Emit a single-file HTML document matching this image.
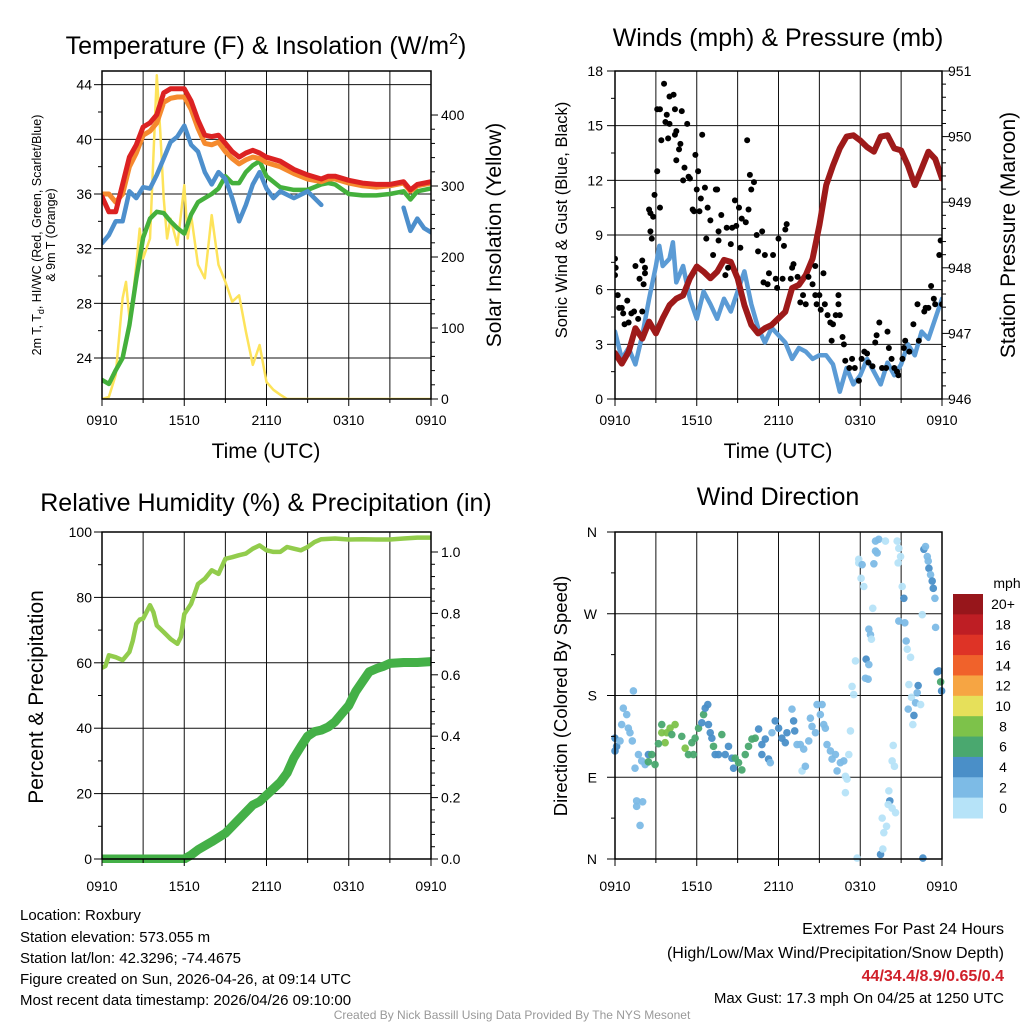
<!DOCTYPE html>
<html><head><meta charset="utf-8"><style>
html,body{margin:0;padding:0;background:#fff;}
svg{display:block;font-family:"Liberation Sans",Arial,sans-serif;}
</style></head><body>
<svg id="fig" width="1024" height="1024" viewBox="0 0 1024 1024" xmlns="http://www.w3.org/2000/svg">
<defs>
<clipPath id="c1"><rect x="102" y="71" width="329" height="328"/></clipPath>
<clipPath id="c2"><rect x="615" y="71" width="327" height="328"/></clipPath>
<clipPath id="c3"><rect x="102" y="532" width="329" height="331"/></clipPath>
<clipPath id="c4"><rect x="611" y="528" width="335" height="335"/></clipPath>
</defs>
<g id="titles" font-size="25" text-anchor="middle" fill="#000">
<text x="266" y="54">Temperature (F) &amp; Insolation (W/m<tspan font-size="16" dy="-10">2</tspan><tspan dy="10">)</tspan></text>
<text x="778" y="46">Winds (mph) &amp; Pressure (mb)</text>
<text x="266" y="511">Relative Humidity (%) &amp; Precipitation (in)</text>
<text x="778" y="505">Wind Direction</text>
</g>
<g font-size="21" text-anchor="middle">
<text x="266" y="458">Time (UTC)</text>
<text x="778" y="458">Time (UTC)</text>
<text transform="translate(501,235) rotate(-90)">Solar Insolation (Yellow)</text>
<text transform="translate(1015,235) rotate(-90)">Station Pressure (Maroon)</text>
<text transform="translate(43,697) rotate(-90)">Percent &amp; Precipitation</text>
</g>
<g text-anchor="middle">
<text transform="translate(567,220) rotate(-90)" font-size="16.5">Sonic Wind &amp; Gust (Blue, Black)</text>
<text transform="translate(567,696) rotate(-90)" font-size="18.5">Direction (Colored By Speed)</text>
</g>
<g font-size="12.5" text-anchor="middle">
<text transform="translate(41,235) rotate(-90)">2m T, T<tspan font-size="9" dy="3">d</tspan><tspan dy="-3">, HI/WC (Red, Green, Scarlet/Blue)</tspan></text>
<text transform="translate(55,235) rotate(-90)">&amp; 9m T (Orange)</text>
</g>
<g id="p1"></g>
<g id="p2"></g>
<g id="p3"></g>
<g id="p4"></g>
<g id="cbar"></g>
<g font-size="15" fill="#000">
<text x="20" y="920">Location: Roxbury</text>
<text x="20" y="942">Station elevation: 573.055 m</text>
<text x="20" y="963">Station lat/lon: 42.3296; -74.4675</text>
<text x="20" y="984">Figure created on Sun, 2026-04-26, at 09:14 UTC</text>
<text x="20" y="1005">Most recent data timestamp: 2026/04/26 09:10:00</text>
</g>
<g font-size="16" text-anchor="end">
<text x="1004" y="934">Extremes For Past 24 Hours</text>
<text x="1004" y="958">(High/Low/Max Wind/Precipitation/Snow Depth)</text>
<text x="1004" y="981" fill="#d0202a" font-weight="bold">44/34.4/8.9/0.65/0.4</text>
<text x="1004" y="1003" font-size="15">Max Gust: 17.3 mph On 04/25 at 1250 UTC</text>
</g>
<text x="512" y="1019" font-size="12" fill="#999" text-anchor="middle">Created By Nick Bassill Using Data Provided By The NYS Mesonet</text>
</svg>
<script>
// ---- Panel 1 data ----
const tHours = [0,0.5,1,1.5,2,2.5,3,3.5,4,4.5,5,5.5,6,6.5,7,7.5,8,8.5,9,9.5,10,10.5,11,11.5,12,13,14,15,16,16.5,17,18,19,20,21,22,22.5,23,24];
const tempRed = [35.8,34.7,34.7,36.7,38.7,39.6,40.9,41.2,41.8,43.4,43.7,43.7,43.7,42.8,41.4,40.3,40.2,40.3,39.7,39.1,38.7,39.0,39.2,39.0,38.7,38.4,37.8,37.4,37.1,37.3,37.3,37.0,36.8,36.7,36.7,36.9,36.3,36.7,36.9];
const temp9mOrange = [36.0,36.0,35.4,36.0,38.0,39.0,40.3,40.6,41.2,42.7,43.0,43.1,43.1,42.2,40.8,39.7,39.6,39.8,39.1,38.6,38.2,38.5,38.7,38.6,38.3,38.0,37.5,37.1,36.9,37.1,37.1,36.8,36.6,36.5,36.6,36.8,36.2,36.6,36.8];
const dewGreen = [22.4,22.1,23.1,24.0,26.4,29.8,32.8,34.2,34.7,34.6,34.0,33.5,33.1,34.5,35.4,35.7,36.0,36.4,37.3,36.8,36.8,37.6,38.1,38.4,37.3,36.5,36.3,36.3,36.7,36.8,36.7,36.0,35.9,35.9,36.0,36.2,35.6,36.2,36.4];
const wcHours = [0,0.5,1,1.5,2,2.5,3,3.5,4,4.5,5,5.5,6,6.5,7,7.5,8,8.5,9,9.5,10,10.5,11,11.5,12,12.5,13,14,15,16,19,22,22.5,23,23.5,24];
const windChillBlue = [32.4,33,34,34,36.2,35.7,36.5,36.4,37.4,38.6,39.8,40.2,41.0,39.6,39.1,37.6,36.7,37.6,37.1,35.7,34.0,35.2,36.7,37.6,36.4,35.7,36.2,35.7,36.2,35.2,null,35.0,33.3,34.2,33.5,33.2];
const solarHours = [0,0.5,1,1.5,1.75,2,2.25,2.5,2.75,3,3.5,4,4.25,4.5,4.75,5,5.5,6,6.25,6.5,7,7.5,8,8.5,9,9.5,10,10.5,11,11.5,12,12.5,13,13.5,24];
const solarYellow = [0,3,34,142,165,114,142,189,240,198,226,456,376,283,226,254,217,301,226,259,189,170,259,189,165,137,146,95,48,76,24,13,6,0,0];
const tempTicks = [24,28,32,36,40,44];
const solarTicks = [0,100,200,300,400];
const timeLabels = ["0910","1510","2110","0310","0910"];
// ---- Panel 2 data ----
const presHours = [0,0.5,1,1.5,2,2.5,3,3.5,4,4.5,5,5.5,6,6.5,7,7.5,8,8.5,9,9.5,10,10.5,11,11.5,12,12.5,13,13.5,14,14.5,15,15.5,16,16.5,17,17.5,18,18.5,19,19.5,20,20.5,21,21.5,22,22.5,23,23.5,24];
const pressure = [946.70,946.54,946.72,947.08,946.92,947.18,947.0,947.23,947.43,947.53,947.58,947.84,948.02,947.94,947.84,947.94,948.12,948.09,947.84,947.43,947.13,947.0,947.08,947.13,947.23,947.33,947.69,947.74,947.89,948.14,948.65,949.26,949.56,949.82,950.0,950.02,949.94,949.84,949.77,950.0,950.02,949.82,949.79,949.56,949.26,949.51,949.77,949.66,949.36];
const windHours = [0,0.5,1,1.5,2,2.5,3,3.25,3.5,4,4.25,4.5,5,5.5,6,6.5,7,7.5,8,8.5,9,9.5,10,10.5,11,11.5,12,12.5,13,13.5,14,14.5,15,15.5,16,16.5,17,17.5,18,18.5,19,19.5,20,20.5,21,21.5,22,22.5,23,23.5,24];
const windSpeed = [3.7,2.2,2.8,1.9,3.5,5.5,7.3,8.4,7.3,7.7,8.6,6.4,7.3,5.5,4.4,5.9,5.2,4.4,5.5,4.8,5.9,7.0,5.2,3.9,3.1,3.9,3.5,3.1,2.2,2.8,2.6,2.2,2.4,2.4,1.9,0.4,1.7,0.8,1.3,2.2,1.5,0.8,2.0,1.3,1.9,3.0,2.4,3.7,3.3,4.4,5.5];
const gustHours = [0,0.05,0,0.2,0.3,0.5,0.6,0.9,0.7,1.0,1.2,1.4,1.7,2.0,1.5,2.0,2.2,2.2,2.1,1.8,2.6,2.7,2.5,2.6,2.8,2.9,3.1,3.3,3.1,3.3,3.6,3.4,3.8,3.7,3.9,4.0,4.0,4.3,4.4,4.4,4.5,4.8,4.7,4.5,4.9,5.3,5.0,5.1,5.4,5.5,5.9,6.1,6.0,6.3,5.7,5.8,6.2,6.4,6.6,6.8,6.7,7.0,7.2,7.4,7.5,7.6,7.8,7.6,8.1,8.2,8.5,8.6,8.3,8.8,9.1,8.9,9.3,9.7,9.9,10.2,10.0,9.8,9.6,9.2,10.4,10.8,10.5,11.0,10.9,11.3,11.2,11.6,11.8,11.9,12.0,12.3,12.4,12.5,12.6,13.0,13.1,12.9,13.4,13.6,14.0,13.8,14.2,14.5,14.7,14.7,14.8,15.0,15.1,15.3,15.4,15.6,15.8,16.0,16.2,16.4,16.4,16.5,15.9,16.7,16.8,16.9,17.2,17.4,17.6,17.9,18.1,18.3,18.5,18.6,18.9,19.1,19.2,19.4,19.6,19.9,20.0,20.1,20.3,20.5,20.7,20.8,21.1,21.2,21.3,21.6,21.9,22.2,22.3,22.7,22.8,23.0,23.2,23.4,23.5,23.8,23.9,24.0];
const gustSpeed = [7.7,7.2,6.8,5.7,5.0,5.0,4.7,5.4,4.1,4.2,4.7,4.8,4.4,4.8,7.3,7.6,7.2,6.9,6.3,6.6,9.2,8.8,10.4,10.2,10.0,11.2,12.5,10.5,15.9,15.9,17.3,14.2,15.6,15.2,14.3,15.1,16.6,16.7,15.9,14.5,14.7,14.0,13.7,13.1,15.8,15.1,12.0,12.7,12.2,12.1,13.4,12.5,11.5,11.0,10.4,10.3,10.3,14.5,11.6,10.5,8.8,9.8,7.9,11.5,11.5,8.7,10.1,9.2,6.8,9.4,8.5,9.4,7.2,10.9,10.5,9.5,9.9,14.2,12.3,11.9,11.5,10.4,9.7,8.3,9.0,9.2,8.1,7.9,6.4,6.9,6.3,7.9,6.6,6.1,8.8,6.6,8.4,9.3,9.6,7.2,7.4,6.6,6.7,5.3,5.2,5.7,6.7,6.3,7.3,5.7,5.2,5.7,4.9,6.9,5.2,4.6,4.2,4.1,4.6,5.7,5.2,4.6,3.2,3.4,3.0,2.1,1.7,2.2,1.7,1.0,2.2,2.6,2.5,2.0,1.8,3.1,3.5,4.2,1.7,1.7,3.7,2.8,2.2,1.7,1.5,1.3,2.2,2.8,3.2,2.6,4.1,5.2,3.2,4.8,5.0,5.0,6.2,5.5,5.2,7.9,8.7,5.2];
const windTicks = [0,3,6,9,12,15,18];
const presTicks = [946,947,948,949,950,951];
// ---- Panel 3 data ----
const rhHours = [0,0.25,0.5,1,1.5,2,2.25,2.5,2.75,3,3.5,3.75,4,4.5,5,5.5,5.75,6,6.5,7,7.5,8,8.5,9,9.5,10,10.5,11,11.5,12,12.5,13,13.5,14,14.5,15,15.5,16,17,18,19,20,21,22,23,24];
const relHumidity = [58.5,59,62.3,61.7,60.8,63.3,66.8,71.9,73.2,73.5,77.6,75.5,71.4,69.4,67.3,65.8,67.9,74.9,78,84.1,85.7,88.3,87.2,91.8,92.3,92.9,93.4,94.9,95.9,94.4,93.9,93.9,95.4,94.9,94.4,95.4,96.9,97.8,98,97.7,97.8,97.7,97.7,98,98.3,98.3];
const precipHours = [0,6,6.5,7,8,9,10,11,11.5,12,13,13.5,14,14.5,15,15.5,16,16.5,17,17.5,18,18.5,19,19.5,20,20.5,21,22,23,24];
const precipAccum = [0,0,0.013,0.03,0.056,0.084,0.13,0.176,0.187,0.208,0.25,0.28,0.33,0.366,0.40,0.415,0.42,0.43,0.447,0.474,0.50,0.545,0.578,0.61,0.62,0.627,0.637,0.64,0.64,0.643];
const rhTicks = [0,20,40,60,80,100];
const precipTicks = ["0.0","0.2","0.4","0.6","0.8","1.0"];
// ---- Panel 4 data ----
const dirHours = [0,0,0.12,0.37,0.61,0.86,0.49,0.98,1.10,1.35,1.27,1.47,1.72,1.96,2.21,2.45,2.70,2.94,2.45,1.59,1.59,2.03,1.84,3.43,3.43,3.80,4.04,4.41,3.68,3.19,4.17,4.90,5.15,5.39,5.76,5.64,5.88,6.13,6.50,6.62,6.81,6.37,6.86,6.99,7.23,7.35,7.60,7.84,7.11,8.09,8.33,8.58,8.82,8.70,9.07,9.31,9.56,9.80,10.05,10.29,10.54,10.78,10.78,11.03,11.27,11.40,11.52,11.76,12.01,12.25,12.50,12.62,12.99,13.11,13.19,13.36,13.60,13.85,13.73,13.97,14.22,14.34,14.46,14.71,14.83,15.20,15.07,15.32,15.44,15.56,15.81,15.93,16.18,16.30,16.54,16.79,16.91,17.03,17.16,16.91,17.28,17.40,17.52,17.65,17.77,17.89,17.89,18.14,18.06,18.26,18.43,18.38,18.58,18.63,18.63,18.75,18.82,18.92,19.00,19.12,19.24,19.12,19.36,19.49,19.66,19.73,19.93,19.61,20.10,20.17,20.05,20.34,20.59,20.42,20.34,20.51,19.85,20.71,20.83,20.96,20.78,21.08,21.20,20.83,21.27,21.37,21.45,21.69,21.57,21.76,22.06,22.18,22.25,21.52,21.94,21.86,22.43,22.55,22.67,22.79,22.92,22.99,23.04,23.16,23.28,23.36,23.48,23.53,23.65,23.77,23.90,23.97,22.60];
const dirDeg = [133,119,124,130,166,159,148,144,139,185,130,100,115,108,104,115,115,104,107,64,58,63,37,148,139,139,144,148,128,127,137,135,122,115,115,128,133,144,159,166,170,150,148,139,124,115,115,137,133,115,124,111,111,100,106,98,115,124,132,133,143,126,115,132,110,106,139,152,144,133,128,139,165,152,141,126,126,121,97,102,130,155,146,139,170,170,159,148,144,126,119,110,115,97,106,108,91,88,115,73,141,190,181,218,1,330,326,324,309,300,220,199,198,214,253,247,242,276,325,339,337,350,352,5,11,29,36,45,75,64,60,56,51,125,108,102,350,350,342,333,326,300,287,262,260,240,231,222,192,178,172,183,191,165,158,148,170,269,341,344,333,328,320,313,306,298,287,255,206,207,195,185,1];
const dirSpeed = [5,5,5,3,3,3,3,3,3,3,3,3,3,3,3,5,7,7,7,3,3,3,3,7,9,9,9,9,9,7,7,7,9,7,7,7,7,7,7,5,5,5,5,5,7,5,5,7,5,5,5,5,7,5,7,7,7,7,7,7,5,5,5,5,5,3,3,5,5,5,5,5,3,5,5,3,3,3,1,3,3,3,3,3,3,3,3,3,3,3,3,3,3,3,3,3,1,1,1,1,1,1,1,1,1,1,1,3,1,1,5,3,3,3,3,3,1,1,3,3,3,3,3,5,1,1,1,1,1,5,1,1,1,1,1,1,1,1,1,1,1,1,5,3,3,3,1,1,1,1,3,3,5,3,5,1,1,1,5,3,3,3,5,3,5,5,3,3,5,5,7,5,5];
const dirLabels = ["N","W","S","E","N"];
const cbarLabels = ["20+","18","16","14","12","10","8","6","4","2","0"];
const cbarColors = ["#97161b","#be1e24","#de3326","#f0622b","#f6a543","#e6e05a","#7dc24a","#4aa86f","#4a8fc8","#7dbbe6","#b6e3f8"];

const NS = "http://www.w3.org/2000/svg";
function mk(tag, attrs, parent){ const e=document.createElementNS(NS,tag); for(const k in attrs) e.setAttribute(k,attrs[k]); parent.appendChild(e); return e; }
function lin(d0,d1,r0,r1){ return v => r0 + (v-d0)/(d1-d0)*(r1-r0); }
function pathD(hs, vs, xf, yf){ let d="", pen=false; for(let i=0;i<hs.length;i++){ if(vs[i]===null){pen=false;continue;} d += (pen?"L":"M")+xf(hs[i]).toFixed(1)+" "+yf(vs[i]).toFixed(1)+" "; pen=true;} return d; }

function frame(g, L, T, R, B, vLines, hLines){
  for(const x of vLines){ const l=mk("line",{x1:x,y1:T,x2:x,y2:B,stroke:"#111","stroke-width":1},g);
    
     }
  for(const y of hLines){ const l=mk("line",{x1:L,y1:y,x2:R,y2:y,stroke:"#111","stroke-width":1},g);
    
     }
}
function tick(g,x1,y1,x2,y2){ const l=mk("line",{x1:x1,y1:y1,x2:x2,y2:y2,stroke:"#000","stroke-width":1},g);
  
   }
function border(g,L,T,R,B){ const r=mk("rect",{x:L,y:T,width:R-L,height:B-T,fill:"none",stroke:"#000","stroke-width":1.5},g);
  
   }
function label(g,x,y,txt,anchor,size,name){ const t=mk("text",{x:x,y:y,"text-anchor":anchor,"font-size":size||14},g); t.textContent=txt;
  
   return t; }
function series(g, hs, vs, xf, yf, color, w, clip, name){
  const p=mk("path",{d:pathD(hs,vs,xf,yf),fill:"none",stroke:color,"stroke-width":w,"stroke-linejoin":"round","stroke-linecap":"round","clip-path":"url(#"+clip+")"},g);
  
  
}
function axesTicks(g,L,R,B,xf,leftYs,rightYs){
  for(let h=0;h<=24;h+=6) tick(g,xf(h),B,xf(h),B+7);
  for(let h=3;h<=24;h+=6) tick(g,xf(h),B,xf(h),B+4);
  leftYs.forEach((y,i)=>tick(g,L-8,y,L,y));
  for(let i=0;i<leftYs.length-1;i++){ const m=(leftYs[i]+leftYs[i+1])/2; tick(g,L-4,m,L,m); }
  rightYs.forEach(y=>tick(g,R,y,R+7,y));
  for(let i=0;i<rightYs.length-1;i++){ const step=(rightYs[i+1]-rightYs[i])/5; for(let k=1;k<5;k++){ tick(g,R,rightYs[i]+k*step,R+4,rightYs[i]+k*step);} }
}

// Panel 1
(function(){
  const g=document.getElementById("p1"); const L=102,R=431,T=71,B=399;
  const x=lin(0,24,L,R), y=lin(21,45,B,T), ys=lin(0,462,B,T);
  frame(g,L,T,R,B,[0,3,6,9,12,15,18,21].map(x),tempTicks.map(y));
  series(g,solarHours,solarYellow,x,ys,"#fde35a",2.5,"c1","solar-line");
  series(g,tHours,dewGreen,x,y,"#44b03c",4.5,"c1","dewpoint-line");
  series(g,wcHours,windChillBlue,x,y,"#4d8fcc",4.5,"c1","windchill-line");
  series(g,tHours,temp9mOrange,x,y,"#f58a2e",5,"c1","temp-9m-line");
  series(g,tHours,tempRed,x,y,"#dc2222",5,"c1","temp-2m-line");
  border(g,L,T,R,B);
  axesTicks(g,L,R,B,x,tempTicks.map(y),solarTicks.map(ys));
  tempTicks.forEach(v=>label(g,L-10,y(v)+5,String(v),"end",14,"y-tick-label"));
  solarTicks.forEach(v=>label(g,R+10,ys(v)+5,String(v),"start",14,"solar-tick-label"));
  timeLabels.forEach((t,i)=>label(g,x(i*6),425,t,"middle",14,"x-tick-label"));
})();
// Panel 2
(function(){
  const g=document.getElementById("p2"); const L=615,R=942,T=71,B=399;
  const x=lin(0,24,L,R), y=lin(0,18,B,T), yp=lin(946,951,B,T);
  frame(g,L,T,R,B,[0,3,6,9,12,15,18,21].map(x),windTicks.map(y));
  series(g,windHours,windSpeed,x,y,"#5b9bd5",4.5,"c2","wind-speed-line");
  series(g,presHours,pressure,x,yp,"#9e1a1a",6,"c2","pressure-line");
  for(let i=0;i<gustHours.length;i++){
    const c=mk("circle",{cx:x(gustHours[i]),cy:y(gustSpeed[i]),r:3,fill:"#000","clip-path":"url(#c2)"},g);
    
    
  }
  border(g,L,T,R,B);
  axesTicks(g,L,R,B,x,windTicks.map(y),presTicks.map(yp));
  windTicks.forEach(v=>label(g,L-12,y(v)+5,String(v),"end",14,"wind-tick-label"));
  presTicks.forEach(v=>label(g,R+6,yp(v)+5,String(v),"start",14,"pressure-tick-label"));
  timeLabels.forEach((t,i)=>label(g,x(i*6),425,t,"middle",14,"x-tick-label"));
})();
// Panel 3
(function(){
  const g=document.getElementById("p3"); const L=102,R=431,T=532,B=859;
  const x=lin(0,24,L,R), y=lin(0,100,B,T), yp=lin(0,1,B,552);
  frame(g,L,T,R,B,[0,3,6,9,12,15,18,21].map(x),rhTicks.map(y));
  series(g,rhHours,relHumidity,x,y,"#92cc4c",4.5,"c3","humidity-line");
  series(g,precipHours,precipAccum,x,yp,"#44b047",9,"c3","precipitation-line");
  border(g,L,T,R,B);
  axesTicks(g,L,R,B,x,rhTicks.map(y),precipTicks.map(v=>yp(parseFloat(v))));
  rhTicks.forEach(v=>label(g,L-10,y(v)+5,String(v),"end",14,"humidity-tick-label"));
  precipTicks.forEach(v=>label(g,R+10,yp(parseFloat(v))+5,v,"start",14,"precip-tick-label"));
  timeLabels.forEach((t,i)=>label(g,x(i*6),891,t,"middle",14,"x-tick-label"));
})();
// Panel 4
(function(){
  const g=document.getElementById("p4"); const L=615,R=942,T=532,B=859;
  const x=lin(0,24,L,R), y=lin(0,360,B,T);
  frame(g,L,T,R,B,[0,3,6,9,12,15,18,21].map(x),[0,90,180,270,360].map(y));
  function col(s){ const idx=Math.min(10,Math.floor(s/2)); return cbarColors[10-idx]; }
  for(let i=0;i<dirHours.length;i++){
    const c=mk("circle",{cx:x(dirHours[i]),cy:y(dirDeg[i]),r:3.8,fill:col(dirSpeed[i]),"fill-opacity":0.95,"clip-path":"url(#c4)"},g);
    
    
  }
  border(g,L,T,R,B);
  axesTicks(g,L,R,B,x,[0,90,180,270,360].map(y),[]);
  dirLabels.forEach((t,i)=>label(g,L-18,y(360-i*90)+5,t,"end",14,"direction-tick-label"));
  timeLabels.forEach((t,i)=>label(g,x(i*6),891,t,"middle",14,"x-tick-label"));
  const cb=document.getElementById("cbar");
  label(cb,1007,588,"mph","middle",14,"colorbar-title");
  const h=224/cbarColors.length;
  cbarColors.forEach((c,i)=>{
    const r=mk("rect",{x:953,y:594+i*h,width:30,height:h+0.5,fill:c},cb);
    
    
    label(cb,1003,594+i*h+h/2+5,cbarLabels[i],"middle",14,"colorbar-label");
  });
})();
</script>
</body></html>
